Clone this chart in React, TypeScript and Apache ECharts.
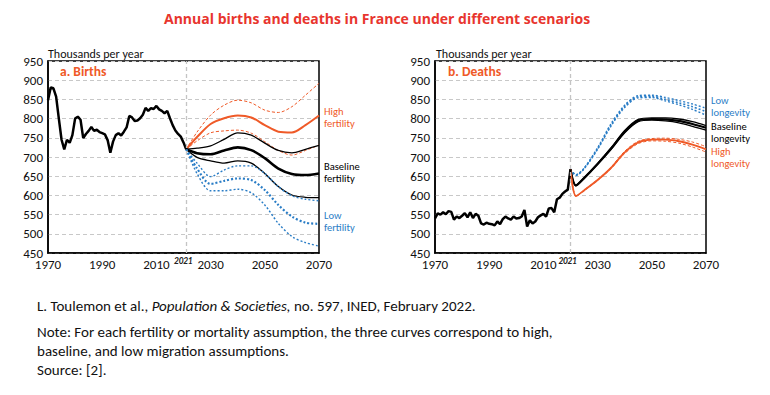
import React, { useEffect, useRef } from "react";
import * as echarts from "echarts";

// ---------- DATA ----------
const xTickLabels = [1970, 1990, 2010, 2030, 2050, 2070];

const birthsHistYears = Array.from({ length: 52 }, (_, i) => 1970 + i); // 1970..2021
const birthsHist = [
  848, 881, 879, 857, 800, 745, 720, 745, 737, 757,
  800, 805, 797, 749, 760, 768, 778, 768, 771, 765,
  762, 759, 744, 711, 740, 757, 762, 756, 766, 777,
  807, 803, 794, 795, 801, 810, 828, 820, 827, 825,
  833, 824, 820, 814, 820, 801, 783, 769, 760, 753,
  738, 720,
];

const birthsProjYears = [2021, 2025, 2030, 2035, 2040, 2045, 2050, 2055, 2060, 2065, 2070];
const birthsHighFertHighMig = [720, 765, 809, 835, 848, 841, 822, 816, 831, 861, 892];
const birthsHighFertBaseMig = [720, 752, 786, 801, 808, 803, 783, 766, 764, 783, 808];
const birthsHighFertLowMig = [720, 742, 763, 768, 770, 762, 740, 717, 705, 717, 731];
const birthsBaseFertHighMig = [720, 723, 729, 746, 763, 757, 736, 717, 711, 720, 730];
const birthsBaseFertBaseMig = [720, 710, 707, 717, 725, 718, 697, 670, 656, 653, 657];
const birthsBaseFertLowMig = [720, 699, 690, 684, 690, 684, 657, 623, 601, 595, 594];
const birthsLowFertHighMig = [720, 684, 649, 666, 677, 677, 657, 623, 599, 590, 586];
const birthsLowFertBaseMig = [720, 670, 630, 638, 644, 640, 614, 575, 545, 529, 526];
const birthsLowFertLowMig = [720, 657, 612, 612, 616, 607, 575, 527, 493, 477, 468];

const deathsHistYears = Array.from({ length: 51 }, (_, i) => 1970 + i); // 1970..2020
const deathsHist = [
  540, 553, 550, 556, 551, 559, 557, 537, 545, 541,
  547, 554, 543, 556, 541, 552, 547, 527, 524, 529,
  526, 525, 522, 532, 525, 538, 545, 540, 537, 545,
  540, 541, 545, 562, 519, 535, 527, 532, 543, 548,
  552, 545, 566, 567, 556, 590, 594, 604, 610, 615,
  668,
];

const deathsProjYears = [2020, 2022, 2025, 2030, 2035, 2040, 2045, 2050, 2055, 2060, 2065, 2070];
const deathsLowLongHighMig = [668, 654, 671, 724, 787, 835, 860, 861, 855, 847, 838, 827];
const deathsLowLongBaseMig = [668, 653, 670, 722, 784, 832, 857, 858, 850, 841, 831, 818];
const deathsLowLongLowMig = [668, 652, 669, 720, 781, 829, 854, 855, 846, 836, 824, 809];
const deathsBaseLongHighMig = [668, 627, 646, 683, 724, 769, 798, 802, 802, 799, 792, 782];
const deathsBaseLongBaseMig = [668, 626, 645, 682, 722, 766, 795, 799, 798, 794, 786, 776];
const deathsBaseLongLowMig = [668, 625, 644, 681, 720, 763, 792, 796, 794, 789, 780, 770];
const deathsHighLongHighMig = [668, 598, 614, 641, 674, 715, 741, 748, 749, 746, 739, 727];
const deathsHighLongBaseMig = [668, 598, 613, 640, 672, 712, 738, 745, 745, 741, 732, 720];
const deathsHighLongLowMig = [668, 598, 612, 639, 670, 709, 735, 742, 741, 736, 726, 713];

// ---------- STYLE ----------
const ORANGE = "#ef5a28";
const BLUE = "#2a7dc6";
const BLACK = "#000000";
const FONT = "Carlito, Lato, sans-serif";

const pairs = (xs: number[], ys: number[]) => xs.map((x, i) => [x, ys[i]]);

function line(
  name: string,
  idx: number,
  xs: number[],
  ys: number[],
  color: string,
  width: number,
  type: any,
  label?: string,
  labelOffset?: number[]
) {
  const s: any = {
    name,
    type: "line",
    xAxisIndex: idx,
    yAxisIndex: idx,
    data: pairs(xs, ys),
    showSymbol: false,
    symbol: "none",
    smooth: 0.3,
    lineStyle: { color, width, type },
    z: 3,
  };
  if (label) {
    s.endLabel = {
      show: true,
      formatter: label,
      color,
      fontSize: 10.5,
      lineHeight: 12,
      fontFamily: FONT,
      distance: 5,
      offset: labelOffset || [0, 0],
    };
  }
  return s;
}

function histLine(idx: number, xs: number[], ys: number[], markX: number) {
  return {
    type: "line",
    xAxisIndex: idx,
    yAxisIndex: idx,
    data: pairs(xs, ys),
    showSymbol: false,
    symbol: "none",
    lineStyle: { color: BLACK, width: 2.5 },
    z: 4,
    markLine: {
      silent: true,
      symbol: "none",
      animation: false,
      lineStyle: { color: "#c4c4c4", type: [4, 3], width: 1.3 },
      label: {
        show: true,
        position: "start",
        formatter: "2021",
        fontSize: 9,
        fontStyle: "italic",
        fontWeight: "bold",
        color: "#222",
        fontFamily: FONT,
        distance: 3,
        offset: [-3, 0],
      },
      data: [{ xAxis: markX }],
    },
  };
}

const xAxisBase = (idx: number) => ({
  type: "value",
  gridIndex: idx,
  min: 1970,
  max: 2070,
  axisLine: { show: true, lineStyle: { color: BLACK, width: 1.5 } },
  axisTick: { show: false },
  splitLine: { show: false },
  axisLabel: {
    customValues: xTickLabels,
    formatter: (v: number) => String(v),
    color: "#111",
    fontSize: 13,
    fontFamily: FONT,
    margin: 5,
  },
});

const yAxisBase = (idx: number) => ({
  type: "value",
  gridIndex: idx,
  min: 450,
  max: 950,
  interval: 50,
  axisLine: { show: true, lineStyle: { color: BLACK, width: 1.5 } },
  axisTick: { show: false },
  splitLine: { show: true, lineStyle: { color: "#c8c8c8", type: [4, 3], width: 1 } },
  axisLabel: { color: "#111", fontSize: 13, fontFamily: FONT, margin: 5 },
});

const option: any = {
  animation: false,
  backgroundColor: "#ffffff",
  title: [
    {
      text: "Annual births and deaths in France under different scenarios",
      left: 164,
      top: 11,
      padding: 0,
      textStyle: { color: "#e8352e", fontSize: 14, fontWeight: "bold", fontFamily: "'Open Sans', Lato, sans-serif" },
    },
    {
      text: "Thousands per year",
      left: 48,
      top: 48,
      padding: 0,
      textStyle: { color: "#111", fontSize: 12, fontWeight: "normal", fontFamily: FONT },
    },
    {
      text: "Thousands per year",
      left: 436,
      top: 48,
      padding: 0,
      textStyle: { color: "#111", fontSize: 12, fontWeight: "normal", fontFamily: FONT },
    },
    {
      text: "a. Births",
      left: 60,
      top: 64,
      padding: 0,
      textStyle: { color: ORANGE, fontSize: 13.5, fontWeight: "bold", fontFamily: FONT },
    },
    {
      text: "b. Deaths",
      left: 448,
      top: 64,
      padding: 0,
      textStyle: { color: ORANGE, fontSize: 13.5, fontWeight: "bold", fontFamily: FONT },
    },
    {
      text: "{n|L. Toulemon et al., }{i|Population & Societies,}{n| no. 597, INED, February 2022.}",
      left: 37,
      top: 298,
      padding: 0,
      textStyle: {
        fontWeight: "normal",
        rich: {
          n: { fontSize: 15, color: "#111", fontFamily: FONT, fontWeight: "normal" },
          i: { fontSize: 15, color: "#111", fontFamily: FONT, fontStyle: "italic", fontWeight: "normal" },
        },
      },
    },
    {
      text:
        "Note: For each fertility or mortality assumption, the three curves correspond to high,\nbaseline, and low migration assumptions.\nSource: [2].",
      left: 37,
      top: 322,
      padding: 0,
      textStyle: { color: "#111", fontSize: 15, lineHeight: 19, fontWeight: "normal", fontFamily: FONT },
    },
  ],
  grid: [
    { left: 48, top: 61, width: 271, height: 192, show: true, borderColor: BLACK, borderWidth: 1.5, containLabel: false },
    { left: 435, top: 61, width: 271, height: 192, show: true, borderColor: BLACK, borderWidth: 1.5, containLabel: false },
  ],
  xAxis: [xAxisBase(0), xAxisBase(1)],
  yAxis: [yAxisBase(0), yAxisBase(1)],
  series: [
    histLine(0, birthsHistYears, birthsHist, 2021),
    line("High fertility, high migration", 0, birthsProjYears, birthsHighFertHighMig, ORANGE, 1, [3, 2]),
    line("High fertility, baseline migration", 0, birthsProjYears, birthsHighFertBaseMig, ORANGE, 2, "solid", "High\nfertility", [0, 1.5]),
    line("High fertility, low migration", 0, birthsProjYears, birthsHighFertLowMig, ORANGE, 1, [3, 2]),
    line("Baseline fertility, high migration", 0, birthsProjYears, birthsBaseFertHighMig, BLACK, 1.3, "solid"),
    line("Baseline fertility, baseline migration", 0, birthsProjYears, birthsBaseFertBaseMig, BLACK, 2.6, "solid", "Baseline\nfertility", [0, -1.5]),
    line("Baseline fertility, low migration", 0, birthsProjYears, birthsBaseFertLowMig, BLACK, 1.3, "solid"),
    line("Low fertility, high migration", 0, birthsProjYears, birthsLowFertHighMig, BLUE, 1.4, [2, 2]),
    line("Low fertility, baseline migration", 0, birthsProjYears, birthsLowFertBaseMig, BLUE, 2.2, [2, 2], "Low\nfertility", [0, -2]),
    line("Low fertility, low migration", 0, birthsProjYears, birthsLowFertLowMig, BLUE, 1.4, [2, 2]),

    histLine(1, deathsHistYears, deathsHist, 2020),
    line("Low longevity, high migration", 1, deathsProjYears, deathsLowLongHighMig, BLUE, 1.4, [2, 2]),
    line("Low longevity, baseline migration", 1, deathsProjYears, deathsLowLongBaseMig, BLUE, 1.6, [2, 2], "Low\nlongevity", [0, -5]),
    line("Low longevity, low migration", 1, deathsProjYears, deathsLowLongLowMig, BLUE, 1.4, [2, 2]),
    line("Baseline longevity, high migration", 1, deathsProjYears, deathsBaseLongHighMig, BLACK, 1.3, "solid"),
    line("Baseline longevity, baseline migration", 1, deathsProjYears, deathsBaseLongBaseMig, BLACK, 2.2, "solid", "Baseline\nlongevity", [0, 5]),
    line("Baseline longevity, low migration", 1, deathsProjYears, deathsBaseLongLowMig, BLACK, 1.3, "solid"),
    line("High longevity, high migration", 1, deathsProjYears, deathsHighLongHighMig, ORANGE, 1, [3, 2]),
    line("High longevity, baseline migration", 1, deathsProjYears, deathsHighLongBaseMig, ORANGE, 1.8, "solid", "High\nlongevity", [0, 8]),
    line("High longevity, low migration", 1, deathsProjYears, deathsHighLongLowMig, ORANGE, 1, [3, 2]),
  ],
};

export default function App() {
  const ref = useRef<HTMLDivElement>(null);
  useEffect(() => {
    const chart = echarts.init(ref.current!, null, { renderer: "svg" });
    chart.setOption(option);
    return () => chart.dispose();
  }, []);
  return (
    <div
      ref={ref}
      style={{ position: "absolute", left: 0, top: 0, width: 770, height: 395, background: "#fff" }}
    />
  );
}
